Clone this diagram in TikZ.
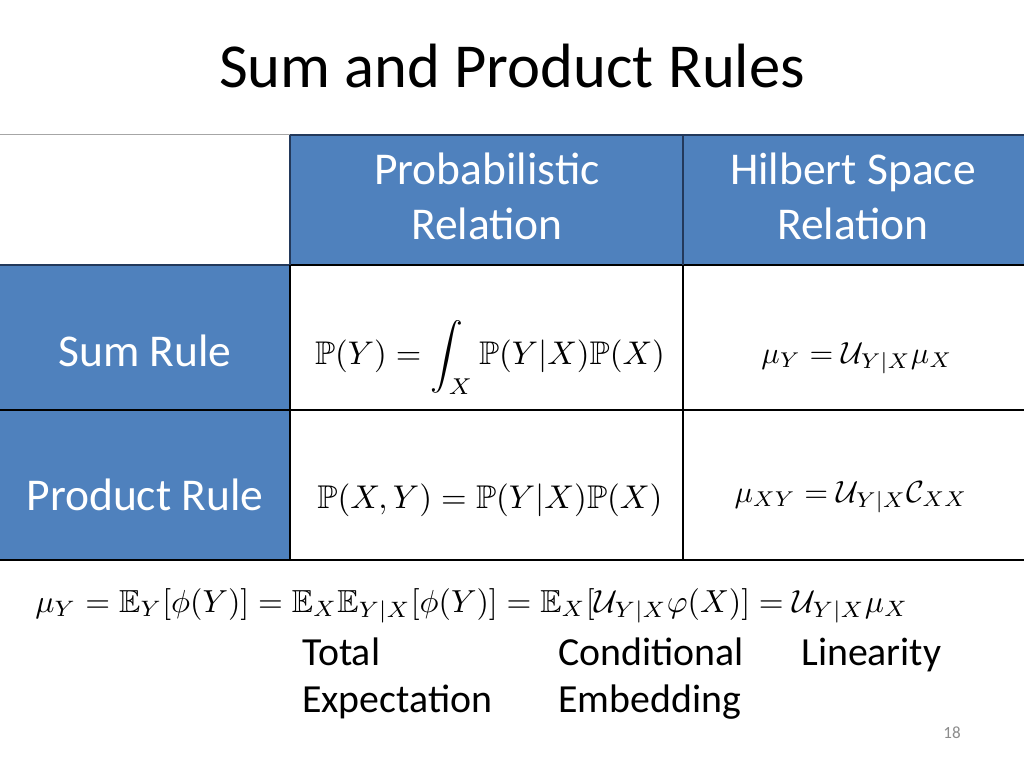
\documentclass[tikz,border=0pt]{standalone}
\usepackage{fontspec}
\setmainfont{Carlito}
\usepackage{amssymb}
\definecolor{hdr}{HTML}{4F81BD}
\definecolor{hdrline}{HTML}{23395B}
\definecolor{pagegray}{HTML}{8C8C8C}
\begin{document}
\begin{tikzpicture}[x=0.703125pt,y=-0.703125pt,
  cell/.style={fill=hdr,draw=none},
  hdrtext/.style={text=white,font=\fontsize{32}{38}\selectfont,inner sep=0pt,anchor=base},
  bodytext/.style={text=black,font=\fontsize{28}{33}\selectfont,inner sep=0pt,anchor=base west},
  mathcell/.style={inner sep=0pt,anchor=base},
  rule/.style={draw=black,line width=0.9pt},
  hrule/.style={draw=hdrline,line width=0.9pt}]
\useasboundingbox[fill=white] (0,0) rectangle (1024,768);
% title
\node[inner sep=0pt,anchor=base,font=\fontsize{44}{53}\selectfont] (title) at (512,88) {Sum and Product Rules};
% blue cells
\fill[hdr] (290,135) rectangle (683,265);
\fill[hdr] (683,135) rectangle (1024,265);
\fill[hdr] (0,265) rectangle (290,410);
\fill[hdr] (0,410) rectangle (290,560);
% grid lines
\draw[gray!70,line width=0.7pt] (0,135) -- (290,135);
\draw[hrule] (290,135) -- (1024,135);
\draw[hrule] (0,265) -- (290,265);
\draw[rule] (290,265) -- (1024,265);
\draw[rule] (0,410) -- (1024,410);
\draw[rule] (0,560) -- (1024,560);
\draw[hrule] (290,135) -- (290,265);
\draw[hrule] (683,135) -- (683,265);
\draw[rule] (290,265) -- (290,560);
\draw[rule] (683,265) -- (683,560);
% header texts
\node[hdrtext] (h1a) at (487,185) {Probabilistic};
\node[hdrtext] (h1b) at (487,240) {Relation};
\node[hdrtext] (h2a) at (853,185) {Hilbert Space};
\node[hdrtext] (h2b) at (853,240) {Relation};
\node[hdrtext] (r1) at (145,366) {Sum Rule};
\node[hdrtext] (r2) at (145,510) {Product Rule};
% formulas
\node[mathcell] (f11) at (490,365) {\resizebox{246pt}{!}{$\displaystyle \mathbb{P}(Y) = \int_X \mathbb{P}(Y|X)\mathbb{P}(X)$}};
\node[mathcell] (f21) at (490,508) {\resizebox{242.6pt}{!}{$\mathbb{P}(X,Y) = \mathbb{P}(Y|X)\mathbb{P}(X)$}};
\node[mathcell] (f12) at (857,363) {\resizebox{134.3pt}{!}{$\mu_Y = \mathcal{U}_{Y|X}\mu_X$}};
\node[mathcell] (f22) at (851,502) {\resizebox{163.8pt}{!}{$\mu_{XY} = \mathcal{U}_{Y|X}\mathcal{C}_{XX}$}};
\node[inner sep=0pt,anchor=base west] (chain) at (35,612) {\resizebox{613.8pt}{!}{$\mu_Y = \mathbb{E}_Y[\phi(Y)] = \mathbb{E}_X\mathbb{E}_{Y|X}[\phi(Y)] = \mathbb{E}_X[\mathcal{U}_{Y|X}\varphi(X)] = \mathcal{U}_{Y|X}\mu_X$}};
% labels
\node[bodytext] (l1a) at (302,665) {Total};
\node[bodytext] (l1b) at (302,712) {Expectation};
\node[bodytext] (l2a) at (558,665) {Conditional};
\node[bodytext] (l2b) at (558,712) {Embedding};
\node[bodytext] (l3a) at (801,665) {Linearity};
\node[inner sep=0pt,anchor=base,text=pagegray,font=\fontsize{12}{14}\selectfont] (page) at (952,738) {18};
\end{tikzpicture}
\end{document}
